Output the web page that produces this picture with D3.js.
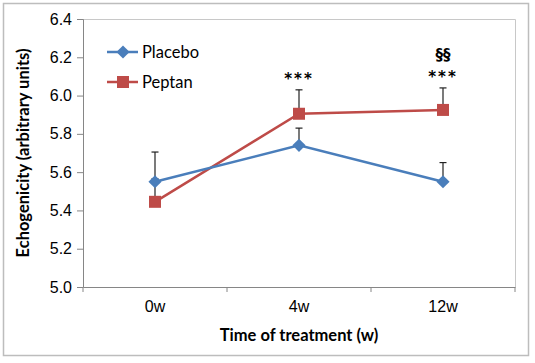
<!DOCTYPE html>
<html lang="en">
<head>
<meta charset="UTF-8">
<script src="https://d3js.org/d3.v7.min.js"></script>
<style>
  body { margin: 0; background: #fff; }
  svg { display: block; font-family: Lato, 'Open Sans', sans-serif; }
  .tick text { font-size: 16px; fill: #000; }
  .axis-title { font-size: 16.5px; font-weight: bold; fill: #000; }
  .mark-note { font-family: 'DejaVu Sans', sans-serif; font-size: 15px; font-weight: bold; fill: #000; }
</style>
</head>
<body>
<svg width="535" height="363"></svg>
<script>
  // data
  const weeks = ["0w", "4w", "12w"];
  const placebo = [5.55, 5.74, 5.55];
  const placeboErr = [0.155, 0.09, 0.10];
  const peptan = [5.445, 5.905, 5.925];
  const peptanErr = [0.12, 0.125, 0.115];
  const yTicks = [5.0, 5.2, 5.4, 5.6, 5.8, 6.0, 6.2, 6.4];
  const notes = [
    { week: "4w", lines: ["***"] },
    { week: "12w", lines: ["§§", "***"] }
  ];

  const svg = d3.select("svg");
  const pLeft = 83, pRight = 515, pTop = 19, pBottom = 287;

  // outer frame
  svg.append("rect")
    .attr("x", 3.5).attr("y", 3.5)
    .attr("width", 525).attr("height", 352)
    .attr("fill", "none").attr("stroke", "#bdbdbd").attr("stroke-width", 1.5);

  const x = d3.scaleBand().domain(weeks).range([pLeft, pRight]);
  const y = d3.scaleLinear().domain([5.0, 6.4]).range([pBottom, pTop]);

  // plot area border (top and right)
  svg.append("path")
    .attr("d", `M${pLeft},${pTop + 0.5}H${pRight + 0.5}V${pBottom}`)
    .attr("fill", "none").attr("stroke", "#c8c8c8").attr("stroke-width", 1);

  const yAxis = svg.append("g")
    .attr("transform", `translate(${pLeft},0)`)
    .call(d3.axisLeft(y).tickValues(yTicks).tickFormat(d3.format(".1f")).tickSize(6).tickPadding(5));

  const xAxis = svg.append("g")
    .attr("transform", `translate(0,${pBottom})`)
    .call(d3.axisBottom(x).tickSize(0).tickPadding(14));

  // category boundary ticks
  xAxis.selectAll(".bound")
    .data([pLeft, pLeft + x.step(), pLeft + 2 * x.step(), pRight])
    .enter().append("line")
    .attr("x1", d => d).attr("x2", d => d)
    .attr("y1", 0).attr("y2", 5)
    .attr("stroke", "#868686");

  [yAxis, xAxis].forEach(a => {
    a.select(".domain").attr("stroke", "#868686");
    a.selectAll(".tick line").attr("stroke", "#868686");
    a.selectAll(".tick text").attr("font-size", 16);
  });

  const cx = d => x(d) + x.bandwidth() / 2;

  // error bars (upwards only)
  function errBars(vals, errs) {
    const g = svg.append("g").attr("stroke", "#222").attr("stroke-width", 1.2);
    weeks.forEach((w, i) => {
      const xx = cx(w), y0 = y(vals[i]), y1 = y(vals[i] + errs[i]);
      g.append("line").attr("x1", xx).attr("x2", xx).attr("y1", y0).attr("y2", y1);
      g.append("line").attr("x1", xx - 3.5).attr("x2", xx + 3.5).attr("y1", y1).attr("y2", y1);
    });
  }
  errBars(peptan, peptanErr);
  errBars(placebo, placeboErr);

  const line = d3.line().x((d, i) => cx(weeks[i])).y(d => y(d));

  const blue = "#4a7ebb", red = "#be4b48";

  svg.append("path").datum(peptan)
    .attr("d", line).attr("fill", "none").attr("stroke", red).attr("stroke-width", 2.5);
  svg.selectAll(".sq").data(peptan).enter().append("rect")
    .attr("x", (d, i) => cx(weeks[i]) - 6).attr("y", d => y(d) - 6)
    .attr("width", 12).attr("height", 12).attr("fill", red);

  svg.append("path").datum(placebo)
    .attr("d", line).attr("fill", "none").attr("stroke", blue).attr("stroke-width", 2.5);
  const diamond = d3.symbol().type(d3.symbolDiamond2).size(110);
  svg.selectAll(".dm").data(placebo).enter().append("path")
    .attr("d", diamond)
    .attr("transform", (d, i) => `translate(${cx(weeks[i])},${y(d)})`)
    .attr("fill", blue);

  // significance notes
  notes.forEach(n => {
    const i = weeks.indexOf(n.week);
    const base = y(peptan[i] + peptanErr[i]) - 6;
    n.lines.slice().reverse().forEach((t, k) => {
      svg.append("text").attr("class", "mark-note")
        .attr("x", cx(n.week)).attr("y", base - k * 22)
        .attr("letter-spacing", t === "***" ? 2 : 0)
        .attr("text-anchor", "middle").text(t);
    });
  });

  // legend
  const legend = [
    { name: "Placebo", color: blue, sym: "d" },
    { name: "Peptan", color: red, sym: "s" }
  ];
  legend.forEach((l, i) => {
    const ly = 52 + i * 30;
    svg.append("line").attr("x1", 107).attr("x2", 138).attr("y1", ly).attr("y2", ly)
      .attr("stroke", l.color).attr("stroke-width", 2.5);
    if (l.sym === "d") {
      svg.append("path").attr("d", diamond).attr("transform", `translate(123,${ly})`).attr("fill", l.color);
    } else {
      svg.append("rect").attr("x", 117).attr("y", ly - 6).attr("width", 12).attr("height", 12).attr("fill", l.color);
    }
    svg.append("text").attr("x", 142).attr("y", ly + 6)
      .attr("font-size", 16.5).text(l.name);
  });

  // axis titles
  svg.append("text").attr("class", "axis-title")
    .attr("transform", `translate(29,${(pTop + pBottom) / 2}) rotate(-90)`)
    .attr("text-anchor", "middle").text("Echogenicity (arbitrary units)");
  svg.append("text").attr("class", "axis-title")
    .attr("x", (pLeft + pRight) / 2).attr("y", 341)
    .attr("text-anchor", "middle").text("Time of treatment (w)");
</script>
</body>
</html>
